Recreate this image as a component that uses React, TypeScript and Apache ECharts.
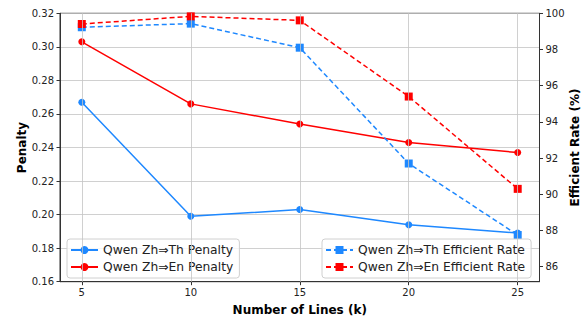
import React, { useEffect, useRef } from "react";
import * as echarts from "echarts";

const xValues = [5, 10, 15, 20, 25];
const thPenalty = [0.267, 0.199, 0.203, 0.194, 0.189];
const enPenalty = [0.303, 0.266, 0.254, 0.243, 0.237];
const thEfficient = [99.23, 99.43, 98.1, 91.7, 87.75];
const enEfficient = [99.41, 99.83, 99.61, 95.4, 90.3];
const rightTicks = [86, 88, 90, 92, 94, 96, 98, 100];

const seriesNames = [
  "Qwen Zh⇒Th Penalty",
  "Qwen Zh⇒En Penalty",
  "Qwen Zh⇒Th Efficient Rate",
  "Qwen Zh⇒En Efficient Rate",
];

const BLUE = "#1E88FF";
const RED = "#FF0000";
const FONT = "DejaVu Sans";

const pairs = (ys: number[]) => xValues.map((x, i) => [x, ys[i]]);

export default function App() {
  const ref = useRef<HTMLDivElement>(null);
  useEffect(() => {
    if (!ref.current) return;
    const chart = echarts.init(ref.current, null, { renderer: "svg" });
    const legendCommon = {
      orient: "vertical" as const,
      top: 239,
      padding: [5, 6, 5, 3],
      itemGap: 5,
      itemWidth: 27,
      itemHeight: 10,
      backgroundColor: "rgba(255,255,255,0.8)",
      borderColor: "#d0d0d0",
      borderWidth: 1,
      borderRadius: 3,
      textStyle: { fontFamily: FONT, fontSize: 12.3, color: "#222" },
    };
    chart.setOption({
      animation: false,
      textStyle: { fontFamily: FONT },
      grid: {
        left: 60,
        right: 45.5,
        top: 13.3,
        bottom: 38.3,
        outerBoundsMode: "none",
        containLabel: false,
        show: true,
        borderColor: "#333",
        borderWidth: 1,
        backgroundColor: "transparent",
      },
      legend: [
        { ...legendCommon, left: 67, data: [seriesNames[0], seriesNames[1]] },
        { ...legendCommon, left: 322, data: [seriesNames[2], seriesNames[3]] },
      ],
      xAxis: {
        type: "value",
        min: 4,
        max: 26,
        name: "Number of Lines (k)",
        nameLocation: "middle",
        nameGap: 22,
        nameMoveOverlap: false,
        nameTextStyle: { fontFamily: FONT, fontSize: 12, fontWeight: "bold", color: "#000" },
        axisLine: { show: true, lineStyle: { color: "#333", width: 1 } },
        axisTick: { show: true, length: 3.5, customValues: xValues, lineStyle: { color: "#333" } },
        axisLabel: { customValues: xValues, fontSize: 10, color: "#222", margin: 6, fontFamily: FONT },
        splitLine: { show: false },
      },
      yAxis: [
        {
          type: "value",
          min: 0.16,
          max: 0.32,
          interval: 0.02,
          name: "Penalty",
          nameLocation: "middle",
          nameRotate: 90,
          nameGap: 32,
          nameMoveOverlap: false,
          nameTextStyle: { fontFamily: FONT, fontSize: 12, fontWeight: "bold", color: "#000" },
          axisLine: { show: true, lineStyle: { color: "#333", width: 1 } },
          axisTick: { show: true, length: 3.5, lineStyle: { color: "#333" } },
          axisLabel: {
            fontSize: 10,
            color: "#222",
            margin: 6,
            fontFamily: FONT,
            formatter: (v: number) => v.toFixed(2),
          },
          splitLine: { show: true, lineStyle: { color: "#c4c4c4", width: 0.8 } },
        },
        {
          type: "value",
          position: "right",
          min: 85.17,
          max: 100,
          name: "Efficient Rate (%)",
          nameLocation: "middle",
          nameRotate: 90,
          nameGap: 29,
          nameMoveOverlap: false,
          nameTextStyle: { fontFamily: FONT, fontSize: 12, fontWeight: "bold", color: "#000" },
          axisLine: { show: true, lineStyle: { color: "#333", width: 1 } },
          axisTick: { show: true, length: 3.5, customValues: rightTicks, lineStyle: { color: "#333" } },
          axisLabel: { customValues: rightTicks, fontSize: 10, color: "#222", margin: 6, fontFamily: FONT },
          splitLine: { show: false },
        },
      ],
      series: [
        {
          name: "_grid",
          type: "line",
          data: [],
          z: 0,
          silent: true,
          markLine: {
            silent: true,
            symbol: "none",
            label: { show: false },
            lineStyle: { color: "#c4c4c4", width: 0.8, type: "solid" },
            data: xValues.map((v) => ({ xAxis: v })),
          },
        },
        {
          name: seriesNames[0],
          type: "line",
          yAxisIndex: 0,
          data: pairs(thPenalty),
          symbol: "circle",
          symbolSize: 7,
          color: BLUE,
          lineStyle: { color: BLUE, width: 1.5 },
          itemStyle: { color: BLUE },
          z: 3,
        },
        {
          name: seriesNames[1],
          type: "line",
          yAxisIndex: 0,
          data: pairs(enPenalty),
          symbol: "circle",
          symbolSize: 7,
          color: RED,
          lineStyle: { color: RED, width: 1.5 },
          itemStyle: { color: RED },
          z: 3,
        },
        {
          name: seriesNames[2],
          type: "line",
          yAxisIndex: 1,
          data: pairs(thEfficient),
          symbol: "rect",
          symbolSize: 8,
          color: BLUE,
          lineStyle: { color: BLUE, width: 1.5, type: [5, 3] },
          itemStyle: { color: BLUE },
          z: 3,
        },
        {
          name: seriesNames[3],
          type: "line",
          yAxisIndex: 1,
          data: pairs(enEfficient),
          symbol: "rect",
          symbolSize: 8,
          color: RED,
          lineStyle: { color: RED, width: 1.5, type: [5, 3] },
          itemStyle: { color: RED },
          z: 3,
        },
      ],
    });
    return () => chart.dispose();
  }, []);
  return (
    <div
      ref={ref}
      style={{ position: "absolute", left: 0, top: 0, width: 585, height: 320, background: "#fff" }}
    />
  );
}
